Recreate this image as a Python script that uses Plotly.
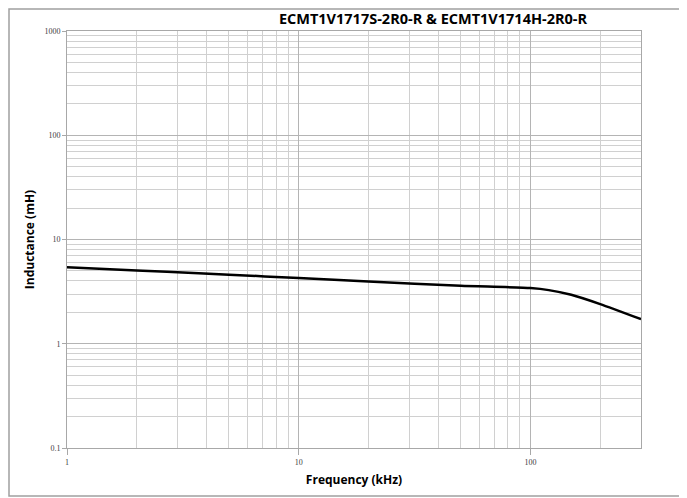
import plotly.graph_objects as go

freq_khz = [1, 2, 3.7, 5, 10, 20, 50, 100, 120, 150, 200, 300]
inductance_mh = [5.42, 5.05, 4.75, 4.6, 4.27, 3.95, 3.6, 3.42, 3.27, 2.95, 2.4, 1.72]

title_text = "ECMT1V1717S-2R0-R & ECMT1V1714H-2R0-R"
x_title = "Frequency (kHz)"
y_title = "Inductance (mH)"
x_tick_vals = [1, 10, 100]
x_tick_text = ["1", "10", "100"]
y_tick_vals = [0.1, 1, 10, 100, 1000]
y_tick_text = ["0.1", "1", "10", "100", "1000"]

# page has an 8px body margin; coordinates below are figure coords
W, H = 687, 498
L, R, T, B = 59, 54, 23, 58
pw, ph = W - L - R, H - T - B

fig = go.Figure()
fig.add_trace(go.Scatter(x=freq_khz, y=inductance_mh, mode="lines",
                         line=dict(color="black", width=2.5, shape="spline", smoothing=0.6),
                         showlegend=False, hoverinfo="skip"))

tickfont = dict(family="Liberation Serif", size=8, color="#404040")
fig.update_xaxes(type="log", range=[0, 2.4771], tickvals=x_tick_vals, ticktext=x_tick_text,
                 showgrid=True, gridcolor="#b4b4b4", gridwidth=1,
                 minor=dict(dtick="D1", showgrid=True, gridcolor="#d0d0d0", gridwidth=1, ticks=""),
                 showline=True, linecolor="#a8a8a8", linewidth=1, mirror=True,
                 ticks="outside", ticklen=6, tickcolor="#a8a8a8", tickfont=tickfont,
                 title=dict(text=x_title, font=dict(family="Open Sans", size=12, color="black", weight="bold"), standoff=10),
                 zeroline=False)
fig.update_yaxes(type="log", range=[-1, 3], tickvals=y_tick_vals, ticktext=y_tick_text,
                 showgrid=True, gridcolor="#b4b4b4", gridwidth=1,
                 minor=dict(dtick="D1", showgrid=True, gridcolor="#d0d0d0", gridwidth=1, ticks=""),
                 showline=True, linecolor="#a8a8a8", linewidth=1, mirror=True,
                 ticks="outside", ticklen=4, tickcolor="#a8a8a8", tickfont=tickfont,
                 title=dict(text=y_title, font=dict(family="Open Sans", size=12, color="black", weight="bold"), standoff=7),
                 zeroline=False)

fig.add_shape(type="rect", xref="paper", yref="paper",
              x0=(1 - L) / pw, x1=(700 - L) / pw,
              y0=(ph - (488 - T)) / ph, y1=(ph - (1 - T)) / ph,
              line=dict(color="#a0a0a0", width=1.5), layer="below")

fig.update_layout(
    width=W, height=H,
    margin=dict(l=L, r=R, t=T, b=B),
    paper_bgcolor="white", plot_bgcolor="white",
    title=dict(text=title_text, x=425 / W, xanchor="center", y=1 - 11 / H, yanchor="middle",
               font=dict(family="Open Sans", size=14.5, color="black", weight="bold")),
)

fig.write_html("out.html")
